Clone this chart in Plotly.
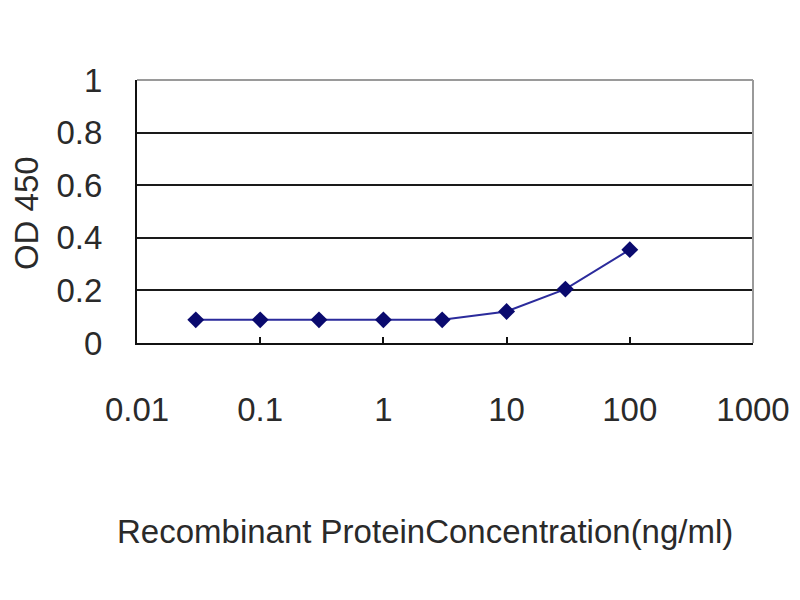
import plotly.graph_objects as go

concentration = [0.03, 0.1, 0.3, 1, 3, 10, 30, 100]
od450 = [0.088, 0.088, 0.088, 0.088, 0.088, 0.12, 0.205, 0.355]
x_tick_vals = [0.01, 0.1, 1, 10, 100, 1000]
x_tick_text = ["0.01", "0.1", "1", "10", "100", "1000"]
y_tick_vals = [0, 0.2, 0.4, 0.6, 0.8, 1]
y_tick_text = ["0", "0.2", "0.4", "0.6", "0.8", "1"]

font = dict(family="Liberation Sans, Arial, sans-serif", size=33, color="#2a2a2a")

fig = go.Figure()
fig.add_trace(go.Scatter(
    x=concentration, y=od450, mode="lines+markers",
    line=dict(color="#2b2b9c", width=2),
    marker=dict(symbol="diamond", size=13, color="#0a0a6e"),
    showlegend=False,
))

fig.update_layout(
    width=800, height=600,
    margin=dict(l=129, r=55, t=72, b=265),
    paper_bgcolor="white", plot_bgcolor="white",
    font=font,
    xaxis=dict(
        type="log", range=[-2, 3],
        tickvals=x_tick_vals, ticktext=x_tick_text,
        showgrid=False, zeroline=False,
        showline=True, linecolor="#111", linewidth=2,
        ticks="inside", ticklen=6, tickcolor="#111", tickwidth=2,
        ticklabelstandoff=36,
        tickfont=font,
    ),
    yaxis=dict(
        range=[0, 1],
        tickvals=y_tick_vals, ticktext=y_tick_text,
        showgrid=True, gridcolor="#1a1a1a", gridwidth=2,
        zeroline=False,
        showline=True, linecolor="#111", linewidth=2,
        ticks="", ticklabelstandoff=26,
        tickfont=font,
    ),
    shapes=[
        dict(type="line", xref="paper", yref="paper", x0=0, x1=1, y0=1, y1=1,
             line=dict(color="#9a9a9a", width=2), layer="above"),
        dict(type="line", xref="paper", yref="paper", x0=1, x1=1, y0=0, y1=1,
             line=dict(color="#9a9a9a", width=2), layer="above"),
    ],
    annotations=[
        dict(text="Recombinant ProteinConcentration(ng/ml)", xref="paper", yref="paper",
             x=0.4675, y=-0.7186, showarrow=False, font=font,
             xanchor="center", yanchor="middle"),
        dict(text="OD 450", xref="paper", yref="paper",
             x=-0.1802, y=0.494, showarrow=False, font=font, textangle=-90,
             xanchor="center", yanchor="middle"),
    ],
)

fig.write_html("out.html")
